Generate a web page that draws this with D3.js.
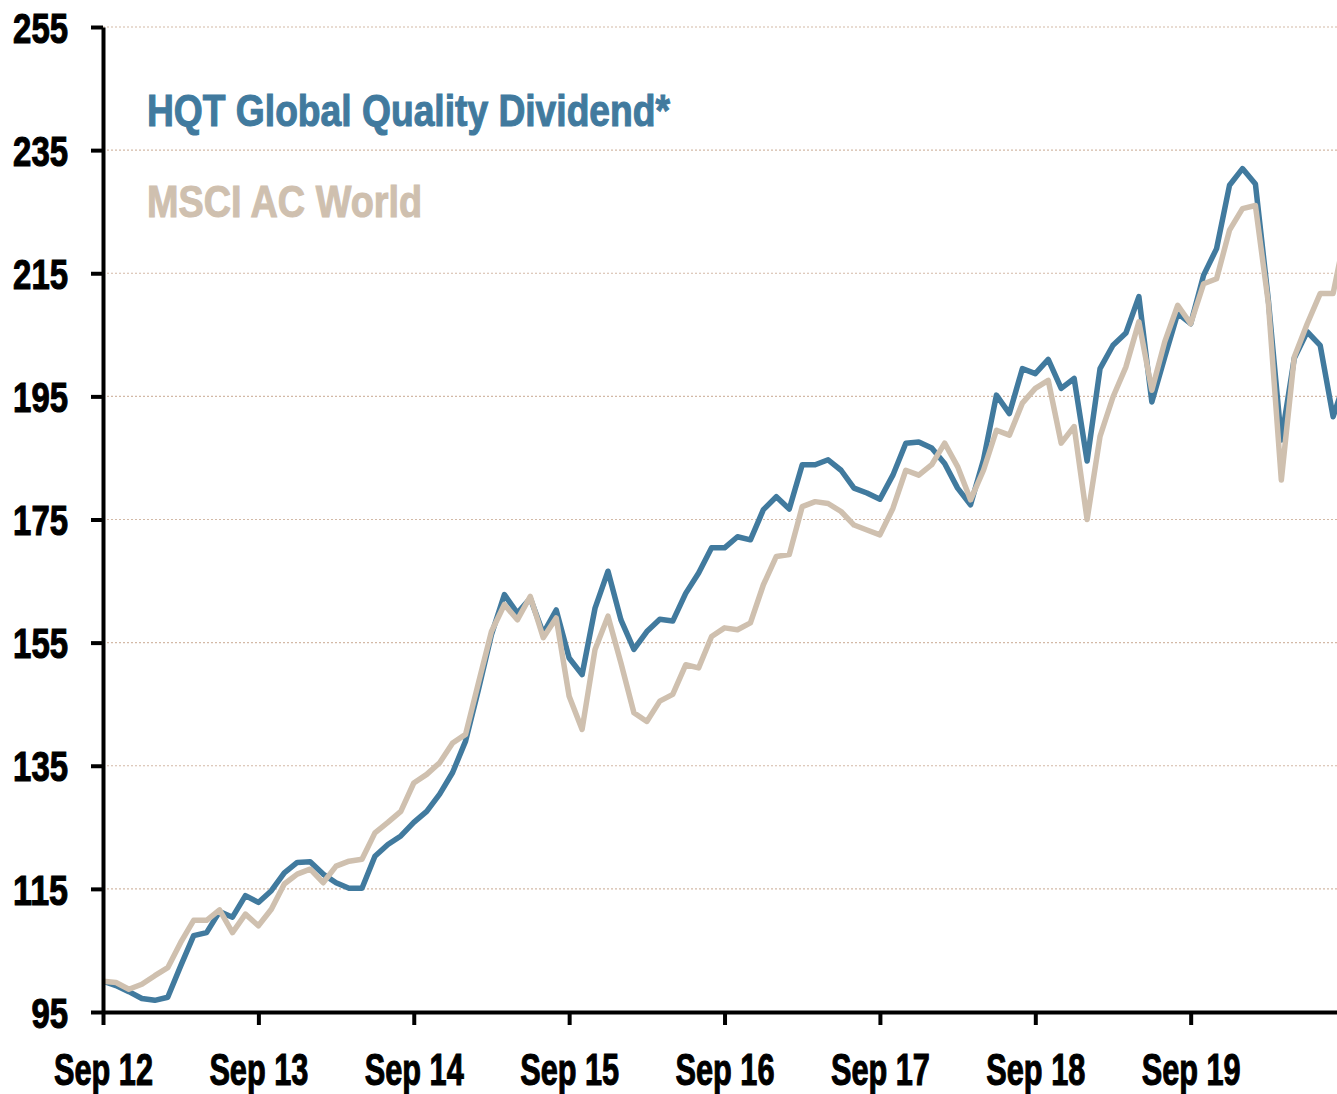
<!DOCTYPE html>
<html>
<head>
<meta charset="utf-8">
<script src="https://cdn.jsdelivr.net/npm/d3@7"></script>
<style>
  html, body { margin: 0; padding: 0; background: #fff; }
  svg { display: block; }
  text { font-family: 'Liberation Sans Narrow', 'Liberation Sans', Arial, sans-serif; font-weight: bold; }
</style>
</head>
<body>
<svg id="chart" width="1337" height="1094"></svg>
<script>
// ---- data ----
const xTickLabels = ["Sep 12", "Sep 13", "Sep 14", "Sep 15", "Sep 16", "Sep 17", "Sep 18", "Sep 19"];
const yTicks = [95, 115, 135, 155, 175, 195, 215, 235, 255];
const seriesNames = ["HQT Global Quality Dividend*", "MSCI AC World"];
const hqt = [
  100, 99.3, 98.3, 97.2, 96.9, 97.4, 102.5, 107.4, 107.9, 111.3, 110.4, 113.9,
  112.8, 114.7, 117.6, 119.3, 119.4, 117.4, 116, 115.1, 115.1, 120.3, 122.2, 123.6,
  125.8, 127.6, 130.4, 133.9, 139, 147.4, 156.3, 162.8, 159.8, 162.2, 156.5, 160.3,
  152.5, 149.8, 160.6, 166.6, 158.7, 153.9, 156.8, 158.8, 158.5, 163, 166.3, 170.4,
  170.4, 172.2, 171.7, 176.6, 178.7, 176.7, 183.9, 183.9, 184.7, 183, 180.1, 179.3,
  178.3, 182.2, 187.4, 187.6, 186.6, 184.1, 180.1, 177.4, 184.7, 195.2, 192.2, 199.5,
  198.7, 201, 196.3, 197.9, 184.5, 199.5, 203.3, 205.3, 211.2, 194.1, 201.4, 208.5,
  206.8, 214.7, 219, 229.3, 232, 229.5, 210.6, 187.9, 201.2, 205.5, 203.3, 191.7,
  198
];
const msci = [
  100, 99.8, 98.7, 99.5, 100.9, 102.2, 106.3, 109.9, 109.9, 111.6, 107.9, 110.9,
  109, 111.7, 115.8, 117.4, 118.2, 116, 118.7, 119.5, 119.8, 124.1, 125.8, 127.6,
  132.2, 133.6, 135.5, 138.7, 140.1, 148.5, 156.8, 161.2, 158.7, 162.5, 155.8, 159,
  146.3, 140.9, 153.9, 159.3, 151.7, 143.6, 142.2, 145.5, 146.6, 151.4, 150.9, 156,
  157.4, 157.1, 158.2, 164.4, 169, 169.3, 177.1, 177.9, 177.6, 176.3, 174.1, 173.3,
  172.5, 176.8, 183, 182.2, 183.9, 187.4, 183.6, 178.2, 183, 189.5, 188.7, 193.9,
  196.3, 197.6, 187.4, 190.1, 175, 188.5, 194.9, 199.8, 207.1, 196, 203.9, 209.8,
  206.8, 213.3, 214.1, 222, 225.5, 226, 210.1, 181.4, 201.4, 206.8, 211.7, 211.7,
  222
];

// ---- layout ----
const W = 1337, H = 1094;
const mLeft = 103, mRight = 1337, mTop = 27, mBottom = 1012;
const colors = ["#417a9e", "#cfc0af"];

const svg = d3.select("#chart");
svg.append("rect").attr("width", W).attr("height", H).attr("fill", "#fff");

const x = d3.scaleLinear().domain([0, 95.3]).range([mLeft, mRight]);
const y = d3.scaleLinear().domain([95, 255]).range([mBottom, mTop]);

// gridlines
svg.append("g").selectAll("line")
  .data(yTicks.filter(v => v > 95))
  .join("line")
  .attr("x1", mLeft).attr("x2", mRight)
  .attr("y1", d => y(d)).attr("y2", d => y(d))
  .attr("stroke", "#d3b9a6")
  .attr("stroke-width", 1.2)
  .attr("stroke-dasharray", "2,2");

// clip
svg.append("clipPath").attr("id", "plotclip")
  .append("rect").attr("x", mLeft).attr("y", 0).attr("width", mRight - mLeft).attr("height", mBottom);

const line = d3.line().x((d, i) => x(i)).y(d => y(d));
const g = svg.append("g").attr("clip-path", "url(#plotclip)");
[hqt, msci].forEach((s, k) => {
  g.append("path")
    .datum(s)
    .attr("d", line)
    .attr("fill", "none")
    .attr("stroke", colors[k])
    .attr("stroke-width", 5.5)
    .attr("stroke-linejoin", "round");
});

// y axis
const yAxis = d3.axisLeft(y).tickValues(yTicks).tickSize(12).tickSizeOuter(0).tickPadding(23);
const ya = svg.append("g").attr("transform", `translate(${mLeft},0)`).call(yAxis);
ya.select(".domain").attr("stroke", "#000").attr("stroke-width", 4);
ya.selectAll(".tick line").attr("stroke", "#000").attr("stroke-width", 4);
ya.selectAll(".tick text")
  .attr("fill", "#000")
  .attr("stroke", "#000").attr("stroke-width", 1.1)
  .attr("font-size", 42)
  .attr("dy", "0.36em")
  .attr("textLength", d => String(d).length * 18.3)
  .attr("lengthAdjust", "spacingAndGlyphs");

// x axis
const xAxis = d3.axisBottom(x)
  .tickValues(xTickLabels.map((_, i) => i * 12))
  .tickFormat(d => xTickLabels[d / 12])
  .tickSize(13).tickSizeOuter(0);
const xa = svg.append("g").attr("transform", `translate(0,${mBottom})`).call(xAxis);
xa.select(".domain").attr("stroke", "#000").attr("stroke-width", 4);
xa.selectAll(".tick line").attr("stroke", "#000").attr("stroke-width", 4);
xa.selectAll(".tick text")
  .attr("fill", "#000")
  .attr("stroke", "#000").attr("stroke-width", 1.1)
  .attr("font-size", 45)
  .attr("y", 73).attr("dy", 0)
  .attr("textLength", 99)
  .attr("lengthAdjust", "spacingAndGlyphs");

// legend
const legendY = [126, 217];
const legendW = [523, 275];
svg.append("g").selectAll("text")
  .data(seriesNames)
  .join("text")
  .attr("x", 147)
  .attr("y", (d, i) => legendY[i])
  .attr("fill", (d, i) => colors[i])
  .attr("stroke", (d, i) => colors[i]).attr("stroke-width", 1.1)
  .attr("font-size", 45)
  .attr("textLength", (d, i) => legendW[i])
  .attr("lengthAdjust", "spacingAndGlyphs")
  .text(d => d);
</script>
</body>
</html>
